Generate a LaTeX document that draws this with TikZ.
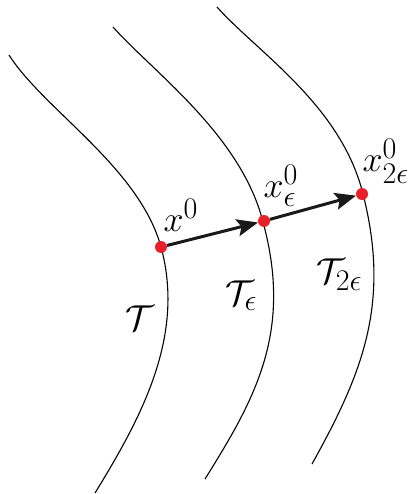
\documentclass[tikz,border=0pt]{standalone}
\usepackage{amsmath,amssymb}
\definecolor{ptRed}{HTML}{E8202A}
\usetikzlibrary{arrows.meta,positioning}
\begin{document}
\begin{tikzpicture}[x=1pt, y=-1pt,
  curve/.style={black, line width=1.1pt},
  dot/.style={circle, fill=ptRed, inner sep=0pt, minimum size=12pt},
  arr/.style={-{Stealth[length=21pt,width=17pt,inset=4pt]}, line width=3pt, black!90},
  lbl/.style={font=\Huge, scale=1.447, transform shape, inner sep=0pt}
]
\useasboundingbox (0,0) rectangle (408,494);
% the three sets
\draw[curve] (9,55) .. controls +(35,55) and +(-22,-80) .. (161,247)
  .. controls +(24,88) and +(48,-78) .. (95,493);
\draw[curve] (113,27) .. controls +(40,45) and +(-22,-87) .. (263,222)
  .. controls +(30,110) and +(50,-80) .. (205,479);
\draw[curve] (217,7) .. controls +(40,45) and +(-22,-89) .. (363,194)
  .. controls +(28,110) and +(50,-90) .. (312,464);
% points
\node[dot] (p0) at (161,247) {};
\node[dot] (p1) at (264,221) {};
\node[dot] (p2) at (362,194) {};
\draw[arr] (p0) -- (p1);
\draw[arr] (p1) -- (p2);
% labels
\node[lbl, above right=11pt and -2pt of p0] (l0) {$x^0$};
\node[lbl, above right=10pt and -5pt of p1] (l1) {$x^0_\epsilon$};
\node[lbl, above right=6pt and -4pt of p2]  (l2) {$x^0_{2\epsilon}$};
\node[lbl, below left=54pt and 2pt of p0]   (t0) {$\mathcal{T}$};
\node[lbl, below left=55pt and 2pt of p1]   (t1) {$\mathcal{T}_\epsilon$};
\node[lbl, below left=60pt and -5pt of p2]  (t2) {$\mathcal{T}_{2\epsilon}$};
\end{tikzpicture}
\end{document}
